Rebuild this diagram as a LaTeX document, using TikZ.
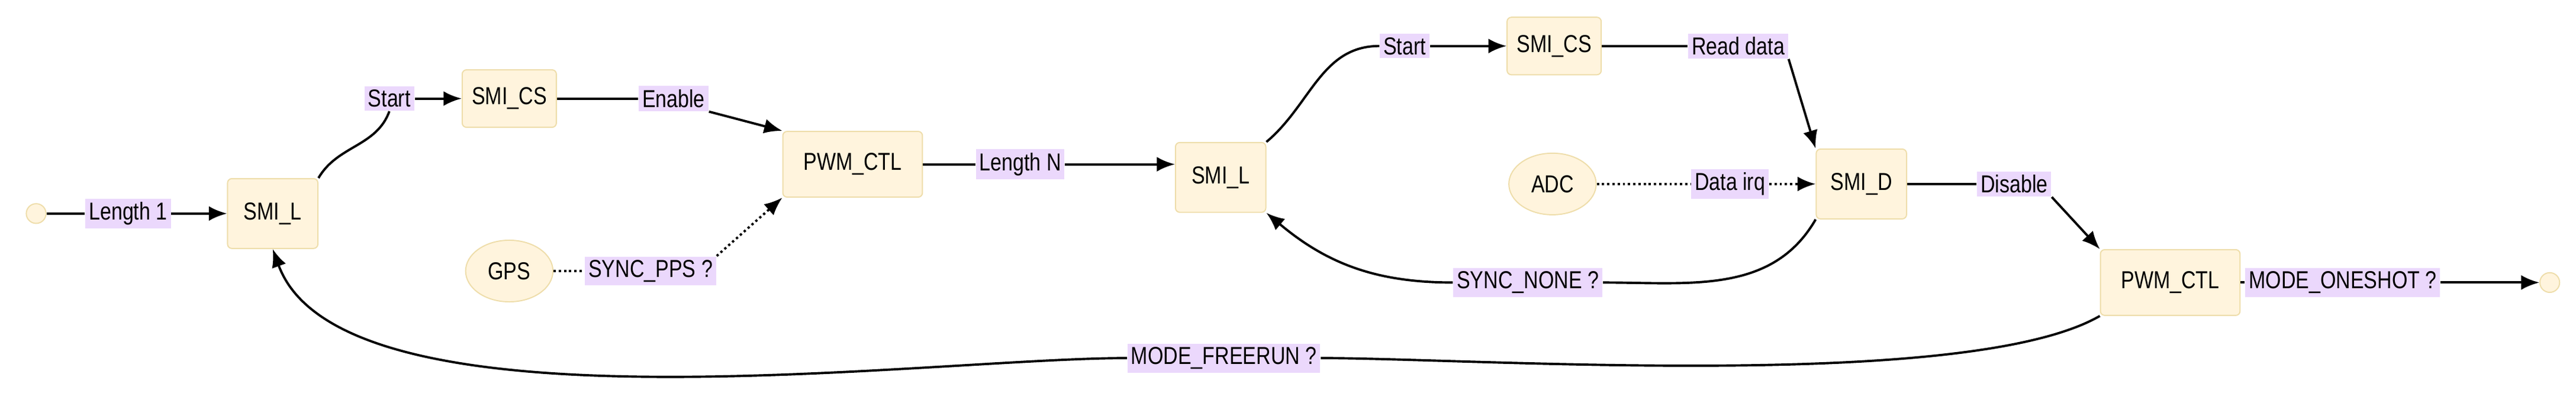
\documentclass[tikz,border=0pt]{standalone}
\usepackage{fontspec}
\setmainfont[FakeStretch=0.82]{Liberation Sans}
\usepackage{tikz}
\usetikzlibrary{positioning, shapes.geometric, arrows.meta}
\definecolor{colorS}{HTML}{FFF4DD}
\definecolor{colorB}{HTML}{EEDDAA}
\definecolor{colorL}{HTML}{EBD8FC}

\begin{document}
\begin{tikzpicture}[x=0.2mm,y=-0.2mm,font=\fontsize{8.5}{9}\selectfont,
        state/.style={draw=colorB,fill=colorS,rounded corners=1.5pt,minimum width=11mm,minimum height=8.5mm},
        ext/.style={draw=colorB,fill=colorS,ellipse,minimum width=10mm,minimum height=7.5mm},
        term/.style={draw=colorB,fill=colorS,circle,minimum size=2.4mm,inner sep=0pt},
        lbl/.style={fill=colorL,inner sep=1.2pt},
        edge/.style={thick,-{Latex[length=2.2mm,width=1.8mm]}},
        sync/.style={edge,densely dotted}]
        \useasboundingbox (0,0) rectangle (1568,245);
        % first pass
        \node[term] (start) at (22,130) {};
        \node[lbl] (l1) at (78,130) {Length 1};
        \node[state] (smil) at (166,130) {SMI\_L};
        \node[lbl] (st1) at (237,60) {Start};
        \node[state,minimum height=7mm] (smics) at (310,60) {SMI\_CS};
        \node[lbl] (en) at (410,60) {Enable};
        \node[state,minimum width=17mm,minimum height=8mm] (pwm) at (519,100) {PWM\_CTL};
        \node[ext] (gps) at (310,165) {GPS};
        \node[lbl] (pps) at (396,165) {SYNC\_PPS ?};
        \node[lbl] (ln) at (621,100) {Length N};
        % second pass
        \node[state] (smilb) at (743,108) {SMI\_L};
        \node[lbl] (st2) at (855,28) {Start};
        \node[state,minimum height=7mm] (smicsb) at (946,28) {SMI\_CS};
        \node[lbl] (rd) at (1058,28) {Read data};
        \node[ext] (adc) at (945,112) {ADC};
        \node[lbl] (irq) at (1053,112) {Data irq};
        \node[state] (smid) at (1133,112) {SMI\_D};
        \node[lbl] (dis) at (1226,112) {Disable};
        \node[state,minimum width=17mm,minimum height=8mm] (pwmb) at (1321,172) {PWM\_CTL};
        \node[lbl] (one) at (1426,172) {MODE\_ONESHOT ?};
        \node[term] (stop) at (1552,172) {};
        \node[lbl] (none) at (930,172) {SYNC\_NONE ?};
        \node[lbl] (free) at (745,218) {MODE\_FREERUN ?};

        \draw[thick] (start) -- (l1);
        \draw[edge] (l1) -- (smil);
        \draw[thick] (smil.north east) to[out=60,in=-110] (st1.south);
        \draw[edge] (st1) -- (smics);
        \draw[thick] (smics) -- (en);
        \draw[edge] (en.south east) -- (pwm.north west);
        \draw[densely dotted,thick] (gps) -- (pps);
        \draw[sync] (pps.north east) -- (pwm.south west);
        \draw[thick] (pwm) -- (ln.west);
        \draw[edge] (ln.east) -- (smilb.west |- ln.east);
        \draw[thick] (smilb.north east) to[out=40,in=180] (st2.west);
        \draw[edge] (st2) -- (smicsb);
        \draw[thick] (smicsb) -- (rd);
        \draw[edge] (rd.south east) -- (smid.north west);
        \draw[densely dotted,thick] (adc) -- (irq);
        \draw[sync] (irq) -- (smid);
        \draw[thick] (smid) -- (dis);
        \draw[edge] (dis.south east) -- (pwmb.north west);
        \draw[thick] (pwmb) -- (one);
        \draw[edge] (one) -- (stop);
        \draw[thick] (smid.south west) to[out=-120,in=0] (none.east);
        \draw[edge] (none.west) to[out=180,in=-40] (smilb.south east);
        \draw[thick] (pwmb.south west) to[out=-150,in=0,looseness=0.5] (free.east);
        \draw[edge] (free.west) to[out=180,in=-70,looseness=0.6] (smil.south);
    \end{tikzpicture}
\end{document}
